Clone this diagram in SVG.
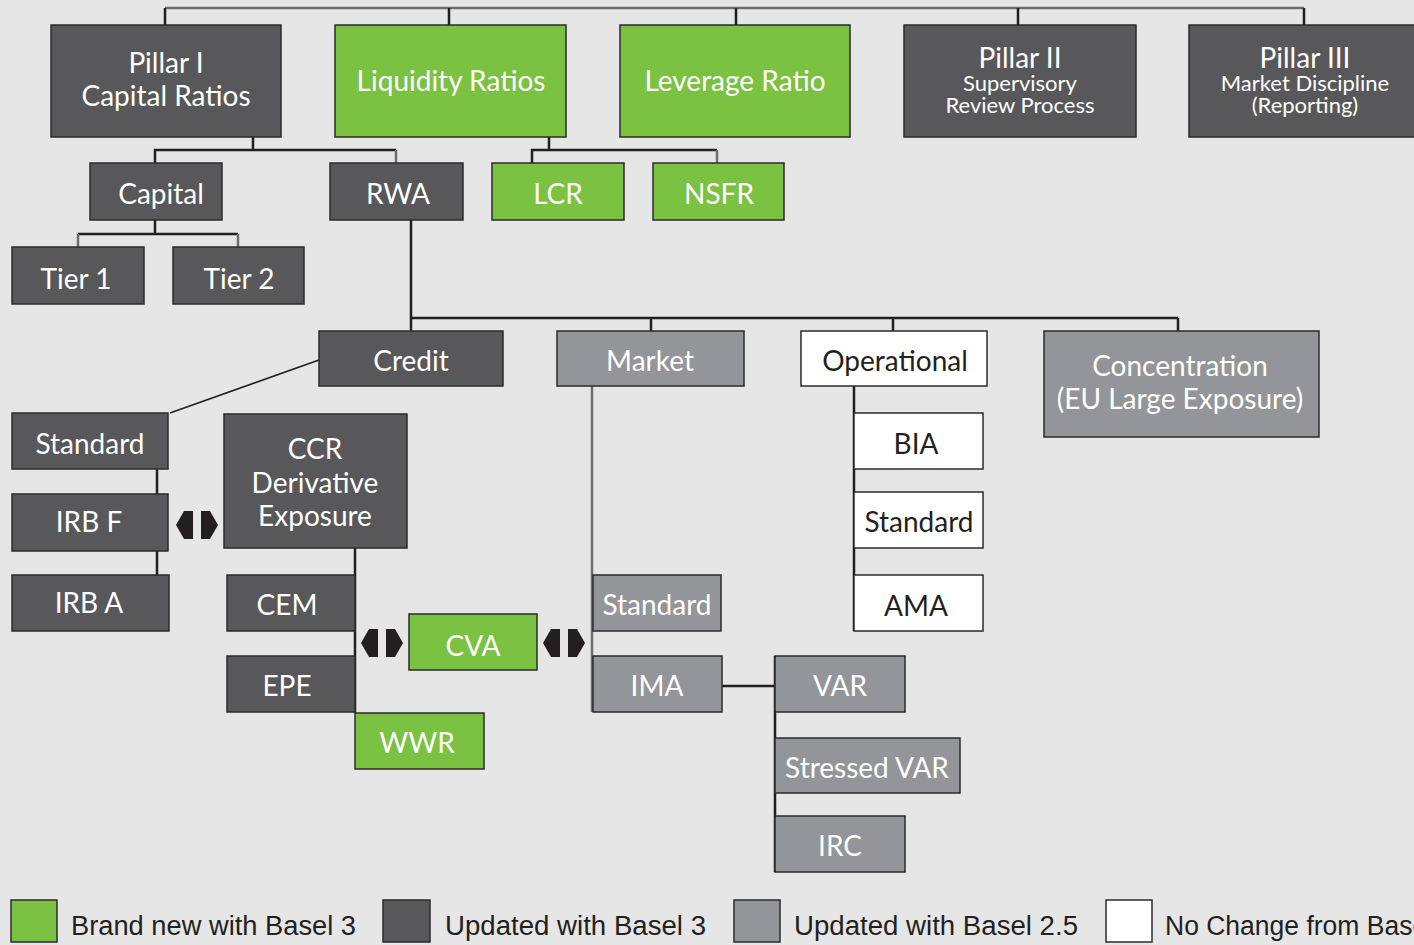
<svg xmlns="http://www.w3.org/2000/svg" width="1414" height="945" viewBox="0 0 1414 945">
<style>
.bx{stroke:#2b2b2b;stroke-width:1.5}
.dk{fill:#58585a}
.gr{fill:#7bc142}
.md{fill:#939598}
.wh{fill:#ffffff}
text{font-family:Lato,"Noto Sans","Liberation Sans",sans-serif;font-size:28px;text-anchor:middle}
.tw{fill:#ffffff}
.tb{fill:#231f20}
.sm{font-size:22px}
.ln{stroke:#231f20;stroke-width:2.5;fill:none}
.lg{stroke:#6d6e71;stroke-width:2.5;fill:none}
.lt{stroke:#231f20;stroke-width:1.8;fill:none}
.ar{fill:#231f20}
.leg{font-family:"Liberation Sans",sans-serif;font-size:27px;text-anchor:start;fill:#231f20}
</style>
<defs>
<g id="dbl">
<polygon points="0,0 8,-14 17,-14 17,14 8,14" class="ar"/>
<polygon points="25,-14 34,-14 42,0 34,14 25,14" class="ar"/>
</g>
</defs>
<rect width="1414" height="945" fill="#e6e6e6"/>
<g id="connectors">
<path class="lg" d="M165,8 H1304"/>
<path class="ln" d="M165,8 V25 M449,8 V25 M736,8 V25 M1018,8 V25 M1304,8 V25"/>
<path class="ln" d="M253,137 V150 M155,163 V150 H396"/>
<path class="lg" d="M396,150 V163"/>
<path class="ln" d="M155,220 V234 M78,234 H238"/>
<path class="lg" d="M78,234 V247 M238,234 V247"/>
<path class="ln" d="M549,137 V150 M532,163 V150 H717"/>
<path class="lg" d="M717,150 V163"/>
<path class="ln" d="M411,220 V318 H1178 M411,318 V331 M651,318 V331 M893,318 V331 M1178,318 V331"/>
<path class="lt" d="M319,360 L170,413"/>
<path class="ln" d="M157,469 V494 M157,551 V575"/>
<path class="ln" d="M355,548 V713"/>
<path class="lg" d="M592,386 V712"/>
<path class="ln" d="M722,686 H775 M775,656 V872"/>
<path class="ln" d="M854,386 V631"/>
<use href="#dbl" x="176" y="525"/>
<use href="#dbl" x="361" y="643"/>
<use href="#dbl" x="543" y="643"/>
</g>
<g id="pillar1"><rect class="bx dk" x="51" y="25" width="230" height="112"/><text class="tw" x="166" y="73">Pillar I</text><text class="tw" x="166" y="106">Capital Ratios</text></g>
<g id="liquidity"><rect class="bx gr" x="335" y="25" width="231" height="112"/><text class="tw" x="451" y="91">Liquidity Ratios</text></g>
<g id="leverage"><rect class="bx gr" x="620" y="25" width="230" height="112"/><text class="tw" x="735" y="91">Leverage Ratio</text></g>
<g id="pillar2"><rect class="bx dk" x="904" y="25" width="232" height="112"/><text class="tw" x="1020" y="68">Pillar II</text><text class="tw sm" x="1020" y="91">Supervisory</text><text class="tw sm" x="1020" y="113">Review Process</text></g>
<g id="pillar3"><rect class="bx dk" x="1189" y="25" width="240" height="112"/><text class="tw" x="1305" y="68">Pillar III</text><text class="tw sm" x="1305" y="91">Market Discipline</text><text class="tw sm" x="1305" y="113">(Reporting)</text></g>
<g id="capital"><rect class="bx dk" x="90" y="163" width="132" height="57"/><text class="tw" x="161" y="204">Capital</text></g>
<g id="rwa"><rect class="bx dk" x="330" y="163" width="133" height="57"/><text class="tw" x="398" y="204">RWA</text></g>
<g id="lcr"><rect class="bx gr" x="492" y="163" width="132" height="57"/><text class="tw" x="558" y="204">LCR</text></g>
<g id="nsfr"><rect class="bx gr" x="653" y="163" width="131" height="57"/><text class="tw" x="719" y="204">NSFR</text></g>
<g id="tier1"><rect class="bx dk" x="12" y="247" width="132" height="57"/><text class="tw" x="76" y="289">Tier 1</text></g>
<g id="tier2"><rect class="bx dk" x="173" y="247" width="131" height="57"/><text class="tw" x="239" y="289">Tier 2</text></g>
<g id="credit"><rect class="bx dk" x="319" y="331" width="184" height="55"/><text class="tw" x="411" y="371">Credit</text></g>
<g id="market"><rect class="bx md" x="557" y="331" width="187" height="55"/><text class="tw" x="650" y="371">Market</text></g>
<g id="operational"><rect class="bx wh" x="801" y="331" width="186" height="55"/><text class="tb" x="895" y="371">Operational</text></g>
<g id="concentration"><rect class="bx md" x="1044" y="331" width="275" height="106"/><text class="tw" x="1180" y="376">Concentration</text><text class="tw" x="1180" y="409">(EU Large Exposure)</text></g>
<g id="cstandard"><rect class="bx dk" x="12" y="413" width="156" height="56"/><text class="tw" x="90" y="454">Standard</text></g>
<g id="irbf"><rect class="bx dk" x="12" y="494" width="156" height="57"/><text class="tw" x="89" y="532">IRB F</text></g>
<g id="irba"><rect class="bx dk" x="12" y="575" width="157" height="56"/><text class="tw" x="89" y="613">IRB A</text></g>
<g id="ccr"><rect class="bx dk" x="224" y="414" width="183" height="134"/><text class="tw" x="315" y="459">CCR</text><text class="tw" x="315" y="493">Derivative</text><text class="tw" x="315" y="526">Exposure</text></g>
<g id="cem"><rect class="bx dk" x="227" y="575" width="128" height="56"/><text class="tw" x="287" y="615">CEM</text></g>
<g id="epe"><rect class="bx dk" x="227" y="656" width="128" height="56"/><text class="tw" x="287" y="696">EPE</text></g>
<g id="wwr"><rect class="bx gr" x="355" y="713" width="129" height="56"/><text class="tw" x="417" y="753">WWR</text></g>
<g id="cva"><rect class="bx gr" x="409" y="614" width="128" height="56"/><text class="tw" x="473" y="656">CVA</text></g>
<g id="mstandard"><rect class="bx md" x="593" y="575" width="128" height="56"/><text class="tw" x="657" y="615">Standard</text></g>
<g id="ima"><rect class="bx md" x="593" y="656" width="129" height="56"/><text class="tw" x="657" y="696">IMA</text></g>
<g id="var"><rect class="bx md" x="775" y="656" width="130" height="56"/><text class="tw" x="840" y="696">VAR</text></g>
<g id="svar"><rect class="bx md" x="775" y="738" width="185" height="55"/><text class="tw" x="867" y="778">Stressed VAR</text></g>
<g id="irc"><rect class="bx md" x="775" y="816" width="130" height="56"/><text class="tw" x="840" y="856">IRC</text></g>
<g id="bia"><rect class="bx wh" x="854" y="413" width="129" height="56"/><text class="tb" x="916" y="454">BIA</text></g>
<g id="ostandard"><rect class="bx wh" x="854" y="492" width="129" height="56"/><text class="tb" x="919" y="532">Standard</text></g>
<g id="ama"><rect class="bx wh" x="854" y="575" width="129" height="56"/><text class="tb" x="916" y="616">AMA</text></g>
<g id="legend">
<rect class="bx gr" x="11" y="900" width="46" height="42"/><text class="leg" x="71" y="935" textLength="285" lengthAdjust="spacingAndGlyphs">Brand new with Basel 3</text>
<rect class="bx dk" x="383" y="900" width="47" height="42"/><text class="leg" x="445" y="935" textLength="261" lengthAdjust="spacingAndGlyphs">Updated with Basel 3</text>
<rect class="bx md" x="734" y="900" width="46" height="42"/><text class="leg" x="794" y="935" textLength="284" lengthAdjust="spacingAndGlyphs">Updated with Basel 2.5</text>
<rect class="bx wh" x="1106" y="900" width="46" height="42"/><text class="leg" x="1165" y="935" textLength="268" lengthAdjust="spacingAndGlyphs">No Change from Basel</text>
</g>
</svg>
